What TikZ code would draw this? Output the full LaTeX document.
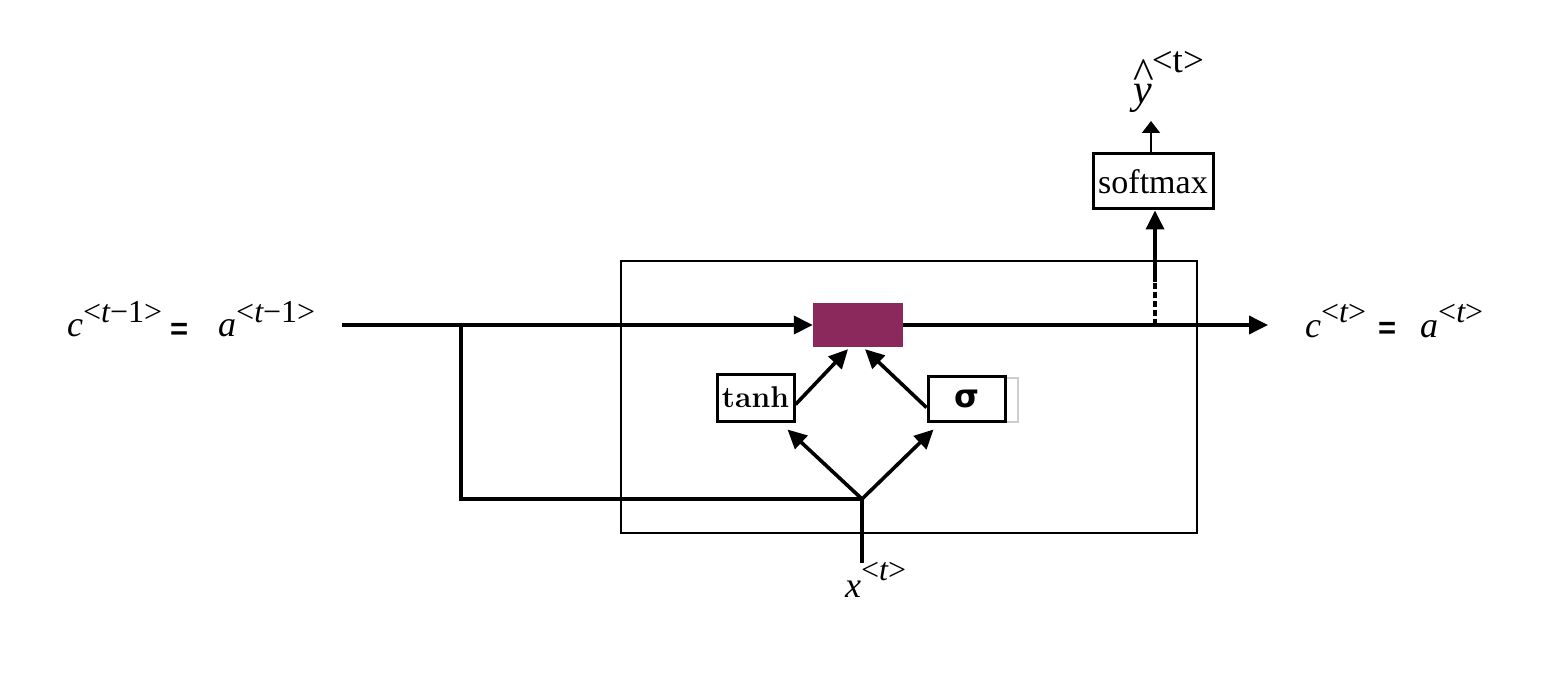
\documentclass[tikz,border=0pt]{standalone}
\usepackage{fontspec}
\newfontfamily\tms{Liberation Serif}
\newfontfamily\arl{Liberation Sans}
\newfontfamily\djv{DejaVu Sans}
\usetikzlibrary{arrows.meta,calc}
\definecolor{gatepurple}{RGB}{139,41,92}
\definecolor{shadowgray}{RGB}{205,205,205}
% raised superscript used by the state labels
\newcommand\mysup[2][15pt]{\raisebox{#1}{\fontsize{32}{32}\selectfont #2}}
\begin{document}
\begin{tikzpicture}[x=1pt,y=-1pt,
  wire/.style={line width=3.6pt},
  arr/.style={wire,-{Triangle[length=19pt,width=18pt]}},
  box/.style={draw,line width=3pt,inner sep=0pt},
  lbl/.style={inner sep=0pt,anchor=base west,font=\tms\fontsize{36}{40}\selectfont},
  eqs/.style={inner sep=0pt,anchor=base west,font=\arl\bfseries\fontsize{31}{31}\selectfont}]
\useasboundingbox (0,0) rectangle (1552,676);

% cell outline and gate
\node[box,line width=2.8pt,minimum width=576,minimum height=272] (cell) at (909,397) {};
\node[fill=gatepurple,inner sep=0pt,minimum width=90,minimum height=44] (gate) at (858,325) {};

% activation boxes
\node[box,minimum width=77,minimum height=47,font=\fontsize{30}{30}\selectfont\bfseries] (tanh) at (755.5,397.5) {tanh};
\node[draw=shadowgray,line width=1.8pt,inner sep=0pt,minimum width=78,minimum height=44] (sigshadow) at (979,400) {};
\node[box,fill=white,minimum width=77,minimum height=45,font=\djv\bfseries\fontsize{32}{32}\selectfont] (sig) at (966.5,398.5) {σ};

% output head
\node[box,minimum width=120,minimum height=55,font=\tms\fontsize{34}{34}\selectfont] (smax) at (1153,181.5) {softmax};

% wiring points
\coordinate (inL) at (342,325);
\coordinate (split) at (461,325);
\coordinate (junc) at (862,499);
\coordinate (xin) at (862,563);
\coordinate (outR) at (1268,325);
\coordinate (tap) at (1155,325);
\coordinate (dashtop) at (1155,282);
\coordinate (yhat) at (1151,121);

% connectors
\draw[arr] (inL) -- (gate.west);
\draw[wire] (split) |- (junc);
\draw[wire] (xin) -- (junc);
\draw[arr] (junc) -- ($(tanh.south east)+(-8,7)$);
\draw[arr] (junc) -- ($(sig.south west)+(7,7)$);
\draw[arr] ($(tanh.east)+(0,7)$) -- ($(gate.south)+(-10,2)$);
\draw[arr] ($(sig.west)+(0,9)$) -- ($(gate.south)+(7,2)$);
\draw[arr] (gate.east) -- (outR);
\draw[wire,dash pattern=on 6pt off 3pt] (tap) -- (dashtop);
\draw[arr] (dashtop) -- (tap |- smax.south);
\draw[line width=1.8pt,-{Triangle[length=12pt,width=18pt]}] (yhat |- smax.north) -- (yhat);

% labels
\node[lbl] (cprev) at (67,336) {{\itshape c}\mysup[14pt]{<{\itshape t}−1>}};
\node[eqs] (eqL) at (170,339) {=};
\node[lbl] (aprev) at (218,336) {{\itshape a}\mysup[14pt]{<{\itshape t}−1>}};
\node[lbl] (cnext) at (1305,337) {{\itshape c}\mysup{<{\itshape t}>}};
\node[eqs] (eqR) at (1378,338) {=};
\node[lbl] (anext) at (1420,337) {{\itshape a}\mysup{<{\itshape t}>}};
\node[lbl] (xlab) at (845,597) {{\itshape x}\mysup[17pt]{<{\itshape t}>}};
% y-hat: circumflex stacked over an italic y, then the time index
\node[lbl,font=\tms\fontsize{42}{42}\selectfont] (ylab) at (1133,104)
  {\makebox[0pt][l]{\raisebox{15pt}{\fontsize{44}{44}\selectfont\string^}}{\itshape y}\raisebox{31pt}{\fontsize{37}{37}\selectfont <t>}};
\end{tikzpicture}
\end{document}
